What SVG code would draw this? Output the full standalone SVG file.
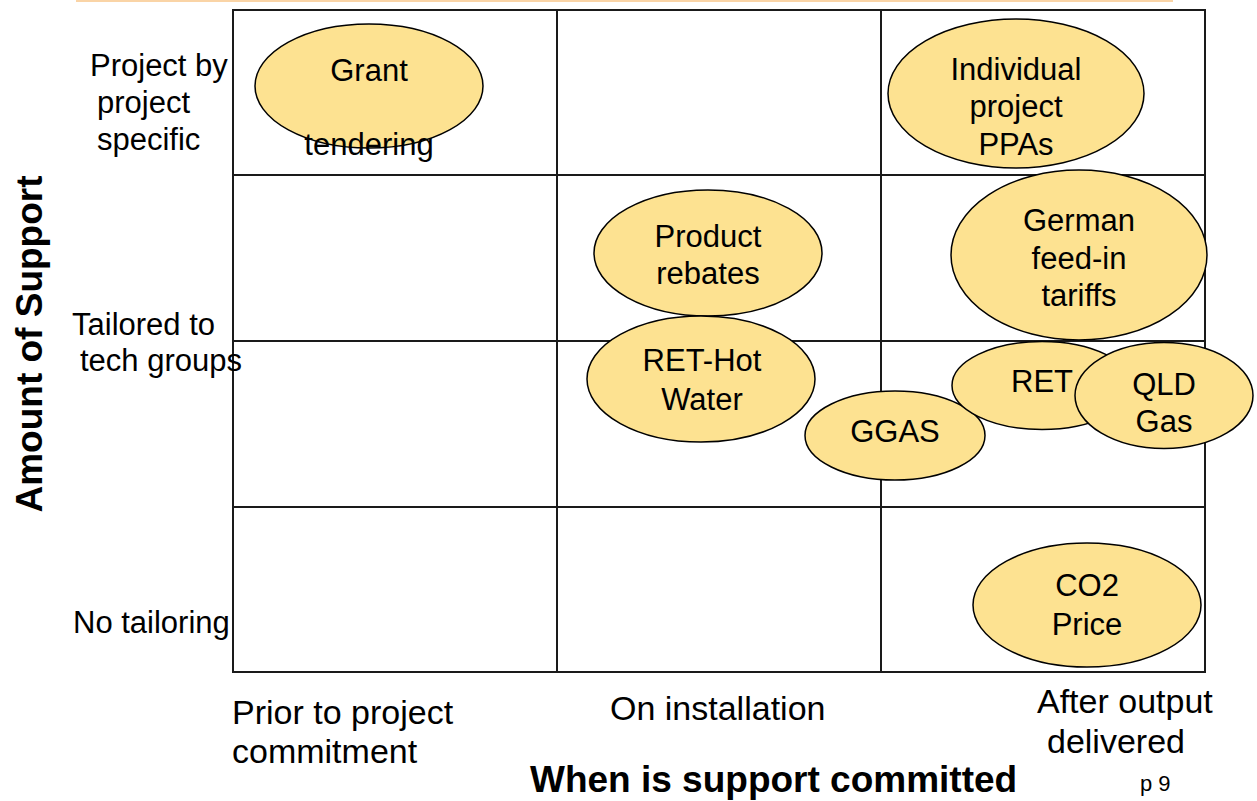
<svg xmlns="http://www.w3.org/2000/svg" width="1257" height="801" viewBox="0 0 1257 801">
  <style>
    .grid { fill: none; stroke: #1a1a1a; stroke-width: 2; }
    .bubble { fill: #FDE291; stroke: #000; stroke-width: 1.5; }
    .lbl { font-family: "Liberation Sans", Arial, sans-serif; font-size: 31px; fill: #000; }
    .mid { text-anchor: middle; }
    .axis { font-family: "Liberation Sans", Arial, sans-serif; font-size: 34px; fill: #000; }
    .title { font-family: "Liberation Sans", Arial, sans-serif; font-weight: bold; font-size: 37px; fill: #000; }
    .page { font-family: "Liberation Sans", Arial, sans-serif; font-size: 22px; fill: #000; }
  </style>

  <rect width="1257" height="801" fill="#fff"/>

  <!-- header rule -->
  <line x1="76" y1="1" x2="1173" y2="1" stroke="#FAD4A6" stroke-width="2"/>

  <!-- 3 x 4 matrix -->
  <g id="grid">
    <rect class="grid" x="233" y="10" width="972" height="662"/>
    <line class="grid" x1="557" y1="10" x2="557" y2="672"/>
    <line class="grid" x1="881" y1="10" x2="881" y2="672"/>
    <line class="grid" x1="233" y1="175" x2="1205" y2="175"/>
    <line class="grid" x1="233" y1="341" x2="1205" y2="341"/>
    <line class="grid" x1="233" y1="507" x2="1205" y2="507"/>
  </g>

  <!-- row labels -->
  <g id="row-labels" class="lbl">
    <text x="90" y="76">Project by</text>
    <text x="97" y="113">project</text>
    <text x="97" y="150">specific</text>
    <text x="72" y="335">Tailored to</text>
    <text x="80" y="371">tech groups</text>
    <text x="73" y="633">No tailoring</text>
  </g>

  <!-- column labels -->
  <g id="column-labels" class="axis">
    <text x="232" y="724">Prior to project</text>
    <text x="232" y="763">commitment</text>
    <text x="610" y="720">On installation</text>
    <text x="1037" y="713">After output</text>
    <text x="1047" y="753">delivered</text>
  </g>

  <!-- axis titles -->
  <text id="y-title" class="title" text-anchor="middle" transform="translate(42 344) rotate(-90)">Amount of Support</text>
  <text id="x-title" class="title" x="530" y="792">When is support committed</text>
  <text id="page-no" class="page" x="1140" y="791">p 9</text>

  <!-- support schemes -->
  <g id="grant">
    <ellipse class="bubble" cx="369" cy="86" rx="114" ry="62"/>
    <text class="lbl mid" x="369" y="81">Grant</text>
    <text class="lbl mid" x="369" y="155">tendering</text>
  </g>

  <g id="individual-ppas">
    <ellipse class="bubble" cx="1016" cy="93.5" rx="128" ry="74.5"/>
    <text class="lbl mid" x="1016" y="80">Individual</text>
    <text class="lbl mid" x="1016" y="117">project</text>
    <text class="lbl mid" x="1016" y="155">PPAs</text>
  </g>

  <g id="product-rebates">
    <ellipse class="bubble" cx="708" cy="253" rx="114" ry="63"/>
    <text class="lbl mid" x="708" y="247">Product</text>
    <text class="lbl mid" x="708" y="284">rebates</text>
  </g>

  <g id="german-fit">
    <ellipse class="bubble" cx="1079" cy="255" rx="128" ry="85"/>
    <text class="lbl mid" x="1079" y="231">German</text>
    <text class="lbl mid" x="1079" y="269">feed-in</text>
    <text class="lbl mid" x="1079" y="306">tariffs</text>
  </g>

  <g id="ret-hot-water">
    <ellipse class="bubble" cx="701" cy="379" rx="114" ry="63"/>
    <text class="lbl mid" x="702" y="371">RET-Hot</text>
    <text class="lbl mid" x="702" y="410">Water</text>
  </g>

  <g id="ggas">
    <ellipse class="bubble" cx="895" cy="435.5" rx="90" ry="44.5"/>
    <text class="lbl mid" x="895" y="442">GGAS</text>
  </g>

  <g id="ret">
    <ellipse class="bubble" cx="1042" cy="385.5" rx="90" ry="44"/>
    <text class="lbl mid" x="1042" y="392">RET</text>
  </g>

  <g id="qld-gas">
    <ellipse class="bubble" cx="1164" cy="395.5" rx="89" ry="53"/>
    <text class="lbl mid" x="1164" y="395">QLD</text>
    <text class="lbl mid" x="1164" y="432">Gas</text>
  </g>

  <g id="co2-price">
    <ellipse class="bubble" cx="1087" cy="605" rx="114" ry="62"/>
    <text class="lbl mid" x="1087" y="596">CO2</text>
    <text class="lbl mid" x="1087" y="635">Price</text>
  </g>

  <g id="connectors"/>
</svg>
